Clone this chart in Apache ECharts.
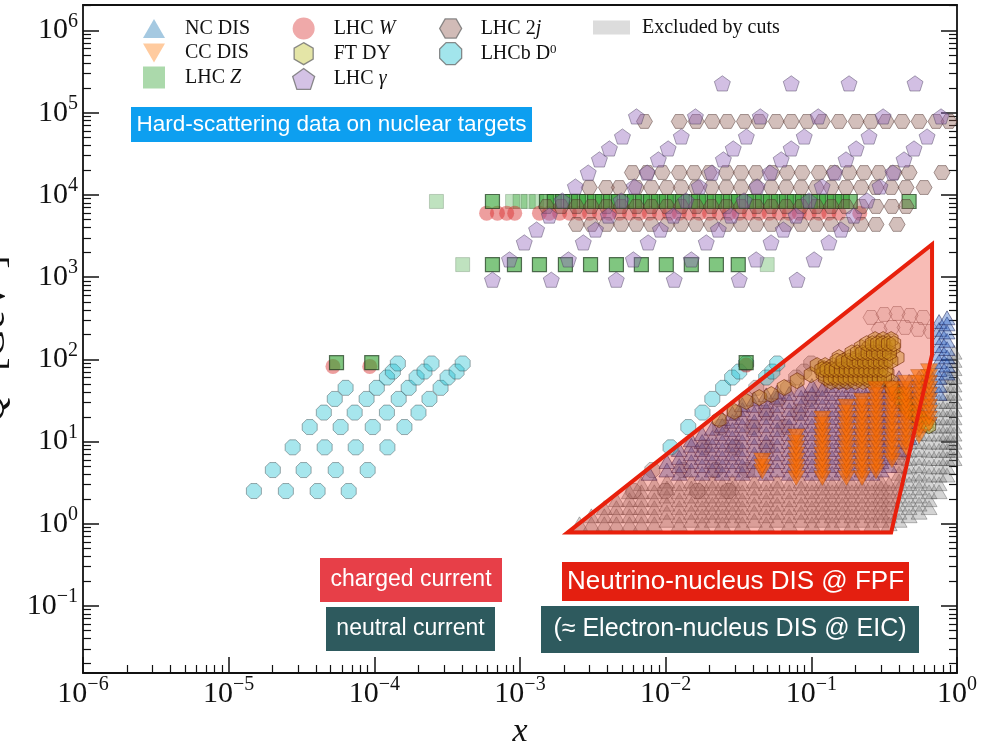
<!DOCTYPE html>
<html>
<head>
<meta charset="utf-8">
<script src="https://cdn.jsdelivr.net/npm/echarts@6.0.0/dist/echarts.min.js"></script>
<style>
  html, body { margin: 0; padding: 0; background: #ffffff; }
  #chart { width: 986px; height: 749px; }
</style>
</head>
<body>
<div id="chart"></div>
<script>
// Kinematic coverage of hard-scattering data on nuclear targets in the (x, Q^2) plane.
// Every value below is (x, Q^2 [GeV^2]).

// ---------- axis ranges and tick exponents ----------
const xLimits = [1e-6, 1];
const yLimits = [0.0153, 2.04e6];
const xDecades = [-6, -5, -4, -3, -2, -1, 0];
const yDecades = [-1, 0, 1, 2, 3, 4, 5, 6];

// ---------- NC DIS: x bins and the Q^2 points of each bin ----------
const ncDisX = [0.0077, 0.0102, 0.0124, 0.0150, 0.0178, 0.0209, 0.0245, 0.0287, 0.0336, 0.0406,
                0.0490, 0.0583, 0.0705, 0.0851, 0.101, 0.119, 0.139, 0.163, 0.190, 0.223,
                0.261, 0.301, 0.342, 0.400, 0.469, 0.549, 0.643, 0.753, 0.854];
const ncDisQ2 = [
  [4.1],
  [4.5, 5.7],
  [4.1, 5.1, 6.4, 8.0],
  [4.5, 5.7, 7.1, 9.0, 10.5],
  [4.1, 5.1, 6.4, 8.0, 10, 12.5],
  [4.5, 5.7, 7.1, 9.0, 11.2, 14.5],
  [4.1, 5.1, 6.4, 8.0, 10, 12.5, 15.7, 19],
  [4.5, 5.7, 7.1, 9.0, 11.2, 14, 17.6, 22],
  [4.1, 5.1, 6.4, 8.0, 10, 12.5, 15.7, 19.6, 24.5, 28],
  [4.5, 5.7, 7.1, 9.0, 11.2, 14, 17.6, 22, 27.5, 33],
  [4.1, 5.1, 6.4, 8.0, 10, 12.5, 15.7, 19.6, 24.5, 30.7, 37],
  [4.5, 5.7, 7.1, 9.0, 11.2, 14, 17.6, 22, 27.5, 34.5, 40],
  [4.1, 5.1, 6.4, 8.0, 10, 12.5, 15.7, 19.6, 24.5, 30.7, 38.4],
  [4.5, 5.7, 7.1, 9.0, 11.2, 14, 17.6, 22, 27.5, 34.5, 43],
  [4.1, 5.1, 6.4, 8.0, 10, 12.5, 15.7, 19.6, 24.5, 30.7, 38.4, 48],
  [4.5, 5.7, 7.1, 9.0, 11.2, 14, 17.6, 22, 27.5, 34.5, 43],
  [4.1, 5.1, 6.4, 8.0, 10, 12.5, 15.7, 19.6, 24.5, 30.7, 38.4, 48],
  [4.5, 5.7, 7.1, 9.0, 11.2, 14, 17.6, 22, 27.5, 34.5, 43, 54],
  [4.1, 5.1, 6.4, 8.0, 10, 12.5, 15.7, 19.6, 24.5, 30.7, 38.4, 48],
  [4.5, 5.7, 7.1, 9.0, 11.2, 14, 17.6, 22, 27.5, 34.5, 43],
  [4.1, 5.1, 6.4, 8.0, 10, 12.5, 15.7, 19.6, 24.5, 30.7, 38.4, 48],
  [4.5, 5.7, 7.1, 9.0, 11.2, 14, 17.6, 22, 27.5, 34.5, 43, 54],
  [5.1, 6.4, 8.0, 10, 12.5, 15.7, 19.6, 24.5, 30.7, 38.4, 48],
  [8.0, 10, 12.5, 15.7, 19.6, 24.5, 30.7, 38.4, 48, 60],
  [11.2, 14, 17.6, 22, 27.5, 34.5, 43, 54],
  [15.7, 19.6, 24.5, 30.7, 38.4, 48, 60],
  [22, 27.5, 34.5, 43, 54, 68],
  [38.4, 48, 60, 75, 94, 118, 147, 184, 231, 288],
  [68, 85, 107, 135, 170, 215, 270, 320]
];

// ---------- CC DIS (neutrino) ----------
const ccDisX = [0.046, 0.0787, 0.119, 0.174, 0.223, 0.278, 0.358, 0.447, 0.549, 0.643];
const ccDisQ2 = [
  [4.3, 5.0, 5.9],
  [3.6, 4.3, 5.0, 5.9, 7.0, 8.3, 9.8, 11.6],
  [3.6, 4.3, 5.0, 5.9, 7.0, 8.3, 9.8, 11.6, 13.7, 16.2, 19.1],
  [3.6, 4.3, 5.0, 5.9, 7.0, 8.3, 9.8, 11.6, 13.7, 16.2, 19.1, 22.6, 26.7],
  [3.6, 4.3, 5.0, 5.9, 7.0, 8.3, 9.8, 11.6, 13.7, 16.2, 19.1, 22.6, 26.7, 31.5],
  [4.3, 5.0, 5.9, 7.0, 8.3, 9.8, 11.6, 13.7, 16.2, 19.1, 22.6, 26.7, 31.5, 37.2, 44],
  [5.9, 7.0, 8.3, 9.8, 11.6, 13.7, 16.2, 19.1, 22.6, 26.7, 31.5, 37.2, 44],
  [8.3, 9.8, 11.6, 13.7, 16.2, 19.1, 22.6, 26.7, 31.5, 37.2, 44, 52],
  [11.6, 13.7, 16.2, 19.1, 22.6, 26.7, 31.5, 37.2, 44, 52, 61],
  [16.2, 19.1, 22.6, 26.7, 31.5, 37.2, 44, 52, 61, 72]
];

// ---------- DIS points removed by the Q^2 and W^2 cuts ----------
const cutDisX = [0.00256, 0.00309, 0.00379, 0.00459, 0.00564, 0.00681, 0.00836, 0.0102, 0.0124, 0.0150,
                 0.0178, 0.0209, 0.0245, 0.0287, 0.0336, 0.0406, 0.0490, 0.0583, 0.0705, 0.0851,
                 0.101, 0.119, 0.139, 0.163, 0.190, 0.223, 0.261, 0.301, 0.342, 0.400,
                 0.469, 0.549, 0.643, 0.753, 0.854, 0.954];
const cutDisQ2 = [
  [1.0],
  [1.0, 1.25],
  [1.0, 1.25, 1.57],
  [1.0, 1.25, 1.57, 1.96],
  [1.0, 1.25, 1.57, 1.96, 2.45],
  [1.0, 1.25, 1.57, 1.96, 2.45, 3.07],
  [1.0, 1.25, 1.57, 1.96, 2.45, 3.07],
  [1.1, 1.38, 1.73, 2.17, 2.72, 3.3],
  [1.0, 1.25, 1.57, 1.96, 2.45, 3.07],
  [1.1, 1.38, 1.73, 2.17, 2.72, 3.3],
  [1.0, 1.25, 1.57, 1.96, 2.45, 3.07],
  [1.1, 1.38, 1.73, 2.17, 2.72, 3.3],
  [1.0, 1.25, 1.57, 1.96, 2.45, 3.07],
  [1.1, 1.38, 1.73, 2.17, 2.72, 3.3],
  [1.0, 1.25, 1.57, 1.96, 2.45, 3.07],
  [1.1, 1.38, 1.73, 2.17, 2.72, 3.3],
  [1.0, 1.25, 1.57, 1.96, 2.45, 3.07],
  [1.1, 1.38, 1.73, 2.17, 2.72, 3.3],
  [1.0, 1.25, 1.57, 1.96, 2.45, 3.07],
  [1.1, 1.38, 1.73, 2.17, 2.72, 3.3],
  [1.0, 1.25, 1.57, 1.96, 2.45, 3.07],
  [1.1, 1.38, 1.73, 2.17, 2.72, 3.3],
  [1.0, 1.25, 1.57, 1.96, 2.45, 3.07],
  [1.1, 1.38, 1.73, 2.17, 2.72, 3.3],
  [1.0, 1.25, 1.57, 1.96, 2.45, 3.07],
  [1.1, 1.38, 1.73, 2.17, 2.72, 3.3],
  [1.0, 1.25, 1.57, 1.96, 2.45, 3.07],
  [1.1, 1.38, 1.73, 2.17, 2.72, 3.3],
  [1.0, 1.25, 1.57, 1.96, 2.45, 3.07],
  [1.1, 1.38, 1.73, 2.17, 2.72, 3.3, 4.1, 5.1, 6.4, 7.4],
  [1.25, 1.57, 1.96, 2.45, 3.07, 3.9, 4.9, 6.2, 7.8, 9.8],
  [1.38, 1.73, 2.17, 2.72, 3.3, 4.1, 5.1, 6.4, 8.0, 10, 12.5],
  [1.57, 1.96, 2.45, 3.07, 3.9, 4.9, 6.2, 7.8, 9.8, 12.3, 15.4, 19.4],
  [2.45, 3.07, 3.9, 4.9, 6.2, 7.8, 9.8, 12.3, 15.4, 19.4, 24.4, 30.7],
  [3.9, 4.9, 6.2, 7.8, 9.8, 12.3, 15.4, 19.4, 24.4, 30.7, 38.6, 48.6, 61],
  [6.2, 7.8, 9.8, 12.3, 15.4, 19.4, 24.4, 30.7, 38.6, 48.6, 61, 77, 97, 122]
];

// ---------- fixed-target Drell-Yan ----------
const ftDy = [
  [0.0233, 18.5], [0.0296, 23.2], [0.0357, 30.7], [0.0439, 34.3], [0.0531, 37.3], [0.0651, 45.4],
  [0.0799, 55], [0.0997, 65], [0.1225, 77],
  [0.1096, 84], [0.1244, 84], [0.141, 84], [0.160, 84], [0.182, 84], [0.206, 84], [0.234, 84], [0.265, 84], [0.301, 84],
  [0.1205, 67], [0.1368, 67], [0.155, 67], [0.176, 67], [0.200, 67], [0.227, 67], [0.257, 67], [0.292, 67], [0.331, 67],
  [0.1368, 53.7], [0.155, 53.7], [0.176, 53.7], [0.200, 53.7], [0.227, 53.7], [0.257, 53.7], [0.292, 53.7], [0.353, 53.7],
  [0.155, 105], [0.182, 105], [0.206, 105], [0.234, 105], [0.265, 105], [0.301, 105], [0.342, 105], [0.388, 105],
  [0.220, 139], [0.249, 139], [0.283, 139], [0.321, 139], [0.364, 139],
  [0.274, 174], [0.311, 174], [0.353, 174],
  [0.125, 60], [0.135, 60], [0.146, 60], [0.158, 60], [0.171, 60], [0.185, 60], [0.200, 60], [0.216, 60],
  [0.233, 60], [0.252, 60], [0.272, 60], [0.294, 60], [0.318, 60],
  [0.118, 75], [0.128, 75], [0.138, 75], [0.149, 75], [0.161, 75], [0.174, 75], [0.188, 75], [0.203, 75],
  [0.219, 75], [0.237, 75], [0.256, 75], [0.277, 75], [0.300, 75], [0.325, 75],
  [0.150, 95], [0.165, 95], [0.180, 95], [0.196, 95], [0.213, 95], [0.232, 95], [0.252, 95], [0.274, 95],
  [0.298, 95], [0.324, 95], [0.352, 95],
  [0.190, 120], [0.207, 120], [0.225, 120], [0.245, 120], [0.267, 120], [0.290, 120], [0.316, 120], [0.344, 120],
  [0.240, 155], [0.262, 155], [0.285, 155], [0.310, 155], [0.338, 155], [0.368, 155],
  [0.360, 45], [0.382, 40.5], [0.400, 36], [0.433, 37.3], [0.413, 32.4], [0.420, 30], [0.447, 26.7],
  [0.460, 25], [0.507, 28.2], [0.491, 22.5], [0.520, 21], [0.549, 19.6], [0.580, 18], [0.613, 16.5], [0.640, 15.5]
];

// ---------- LHCb D0 in pPb / Pbp ----------
const lhcbD0 = [
  [1.49e-5, 2.5], [2.01e-5, 4.5], [2.75e-5, 8.5], [3.6e-5, 15], [4.5e-5, 22.5], [5.35e-5, 33], [6.35e-5, 45],
  [2.47e-5, 2.5], [3.27e-5, 4.5], [4.56e-5, 8.5], [5.87e-5, 15], [7.33e-5, 22.5], [8.85e-5, 33], [1.04e-4, 45], [1.22e-4, 60], [1.34e-4, 71], [1.45e-4, 89],
  [4.08e-5, 2.5], [5.43e-5, 4.5], [7.45e-5, 8.5], [9.75e-5, 15], [1.22e-4, 22.5], [1.47e-4, 33], [1.72e-4, 45], [1.95e-4, 60], [2.21e-4, 71], [2.47e-4, 89],
  [6.67e-5, 2.5], [9.0e-5, 4.5], [1.23e-4, 8.5], [1.61e-4, 15], [2.01e-4, 22.5], [2.39e-4, 33], [2.85e-4, 45], [3.18e-4, 60], [3.67e-4, 71], [4.04e-4, 89],
  [0.0108, 8.5], [0.0143, 15], [0.0179, 22.5], [0.0209, 33], [0.0248, 45], [0.0286, 60], [0.032, 71], [0.0357, 89],
  [0.049, 60], [0.054, 71], [0.0583, 89]
];
const lhcbD0Cut = [
  [0.0060, 2.5], [0.0081, 4.5],
  [0.00995, 2.5], [0.0132, 4.5], [0.0184, 8.5], [0.0237, 15], [0.0296, 22.5], [0.0357, 33], [0.0419, 45],
  [0.0165, 2.5], [0.0219, 4.5], [0.0301, 8.5], [0.0393, 15], [0.049, 22.5], [0.0593, 33], [0.0693, 45], [0.0787, 60], [0.0893, 71], [0.0998, 89],
  [0.0269, 2.5], [0.0363, 4.5], [0.0498, 8.5], [0.0652, 15], [0.0813, 22.5], [0.0966, 33], [0.115, 45], [0.1285, 60], [0.148, 71], [0.163, 89]
];

// ---------- LHC W ----------
const lhcWX = [5.9e-4, 7.0e-4, 8.1e-4, 9.2e-4, 1.36e-3, 1.59e-3, 1.87e-3, 2.19e-3, 2.56e-3, 3.0e-3,
               3.51e-3, 4.11e-3, 4.81e-3, 5.64e-3, 6.6e-3, 7.73e-3, 9.05e-3, 0.0106, 0.0124, 0.0145,
               0.017, 0.020, 0.0233, 0.0273, 0.032, 0.0375, 0.0439, 0.0514, 0.0602, 0.0705,
               0.0826, 0.0967, 0.113, 0.132, 0.155, 0.215];
const lhcWQ2 = 6000;
const lhcWLowMass = [[5.2e-5, 82], [9.3e-5, 82], [0.0357, 85]];

// ---------- LHC Z (Q^2 = M_Z^2) and low-mass Drell-Yan ----------
const lhcZPeakX = [6.47e-4, 1.52e-3, 1.72e-3, 1.96e-3, 2.22e-3, 2.52e-3, 2.86e-3, 3.25e-3, 3.68e-3, 4.18e-3,
                   4.74e-3, 5.38e-3, 6.10e-3, 6.93e-3, 7.86e-3, 8.92e-3, 0.0101, 0.0115, 0.0130, 0.0148,
                   0.0168, 0.0190, 0.0216, 0.0245, 0.0278, 0.0316, 0.0358, 0.0406, 0.0461, 0.0523,
                   0.0594, 0.0674, 0.0764, 0.0867, 0.0984, 0.112, 0.127, 0.144, 0.163, 0.185, 0.469];
const lhcZPeakQ2 = 8315;
const lhcZLowX = [6.47e-4, 9.16e-4, 1.36e-3, 2.05e-3, 3.05e-3, 4.59e-3, 6.81e-3, 0.0101, 0.0150, 0.0223, 0.0315];
const lhcZLowQ2 = 1420;
const lhcZLowMass = [[5.5e-5, 91], [9.6e-5, 91], [0.0357, 91]];
const lhcZCut = [[2.67e-4, 8315], [8.89e-4, 8315], [1.0e-3, 8315], [1.14e-3, 8315], [1.30e-3, 8315],
                 [4.04e-4, 1420], [0.0498, 1420]];

// ---------- LHC dijets: one x list per Q^2 bin ----------
const dijetQ2 = [78200, 18700, 12300, 7230, 4370];
const dijetX = [
  [7.15e-3, 0.0124, 0.0162, 0.0209, 0.0265, 0.0347, 0.0439, 0.0574, 0.0728, 0.0935,
   0.119, 0.155, 0.203, 0.257, 0.326, 0.42, 0.549, 0.718, 0.882],
  [5.91e-3, 7.48e-3, 9.48e-3, 0.0124, 0.0157, 0.0199, 0.0261, 0.033, 0.0419, 0.0538,
   0.0682, 0.0865, 0.113, 0.143, 0.182, 0.230, 0.292, 0.370, 0.469, 0.789],
  [2.99e-3, 3.92e-3, 4.81e-3, 6.29e-3, 7.98e-3, 0.0102, 0.0128, 0.0162, 0.0206, 0.0261,
   0.033, 0.0419, 0.0531, 0.0672, 0.0851, 0.108, 0.137, 0.173, 0.22, 0.278, 0.353, 0.447, 0.594],
  [1.52e-3, 1.92e-3, 2.44e-3, 3.09e-3, 3.92e-3, 4.96e-3, 6.29e-3, 7.98e-3, 0.0102, 0.0128,
   0.0162, 0.0206, 0.0261, 0.033, 0.0419, 0.0531, 0.0672, 0.0851, 0.108, 0.137, 0.173, 0.22, 0.278, 0.358, 0.447],
  [2.44e-3, 3.09e-3, 3.92e-3, 4.96e-3, 6.29e-3, 7.98e-3, 0.0102, 0.0128, 0.0162, 0.0206,
   0.0261, 0.033, 0.0419, 0.0531, 0.0672, 0.0851, 0.108, 0.137, 0.173, 0.22, 0.278, 0.388]
];
const dijetCut = [[0.257, 323], [0.316, 351], [0.388, 361], [0.476, 342], [0.585, 323],
                  [0.292, 231], [0.358, 244], [0.44, 244], [0.54, 231], [0.663, 219]];

// ---------- LHC isolated photons ----------
const lhcGamma = [
  [6.47e-4, 930], [8.47e-4, 1640], [1.07e-3, 2640], [1.30e-3, 3790], [1.59e-3, 5610], [1.95e-3, 8550],
  [2.40e-3, 12650], [2.94e-3, 18700], [3.51e-3, 27000], [4.11e-3, 36700], [5.05e-3, 51300], [6.30e-3, 90000],
  [1.64e-3, 930], [2.15e-3, 1640], [2.72e-3, 2640], [3.30e-3, 3790], [4.04e-3, 5610], [4.95e-3, 8550],
  [6.09e-3, 12650], [7.46e-3, 18700], [8.91e-3, 27000], [0.0104, 36700], [0.0128, 51300], [0.0160, 90000], [0.0245, 227000],
  [4.58e-3, 930], [6.0e-3, 1640], [7.58e-3, 2640], [9.2e-3, 3790], [0.0113, 5610], [0.0138, 8550],
  [0.0170, 12650], [0.0208, 18700], [0.0249, 27000], [0.0291, 36700], [0.0358, 51300], [0.0446, 90000], [0.0728, 227000],
  [0.01145, 930], [0.0150, 1640], [0.0190, 2640], [0.0230, 3790], [0.0281, 5610], [0.0345, 8550],
  [0.0425, 12650], [0.0520, 18700], [0.0621, 27000], [0.0727, 36700], [0.0894, 51300], [0.1115, 90000], [0.1815, 227000],
  [0.0320, 930], [0.0418, 1640], [0.0529, 2640], [0.0642, 3790], [0.0785, 5610], [0.0963, 8550],
  [0.1186, 12650], [0.145, 18700], [0.173, 27000], [0.203, 36700], [0.249, 51300], [0.311, 90000], [0.515, 227000],
  [0.0798, 930], [0.1045, 1640], [0.132, 2640], [0.160, 3790], [0.196, 5610], [0.241, 8550],
  [0.296, 12650], [0.363, 18700], [0.433, 27000], [0.507, 36700], [0.623, 51300], [0.777, 90000]
];

// ---------- FPF neutrino DIS coverage (polygon vertices) ----------
const fpfX = [0.00212, 0.674, 0.674, 0.353];
const fpfQ2 = [0.78, 2494, 114, 0.78];

// ---------- helpers ----------
const lg = Math.log10;
const pt = (x, q) => [lg(x), lg(q)];
const fromColumns = (xs, qs) => xs.flatMap((x, i) => qs[i].map(q => pt(x, q)));
const fromRow = (xs, q) => xs.map(x => pt(x, q));
const fromPairs = ps => ps.map(p => pt(p[0], p[1]));

const SERIF = '"Liberation Serif", "DejaVu Serif", serif';
const SANS = '"Liberation Sans", Arial, sans-serif';
const INK = '#111111';

const TRI_UP = 'path://M0,-10L8.66,5L-8.66,5Z';
const TRI_DOWN = 'path://M0,10L8.66,-5L-8.66,-5Z';
const SQUARE = 'path://M-5,-5L5,-5L5,5L-5,5Z';
const PENTAGON = 'path://M0,-10L9.51,-3.09L5.88,8.09L-5.88,8.09L-9.51,-3.09Z';
const HEX_FLAT = 'path://M10,0L5,8.66L-5,8.66L-10,0L-5,-8.66L5,-8.66Z';
const HEX_POINT = 'path://M0,-10L8.66,-5L8.66,5L0,10L-8.66,5L-8.66,-5Z';
const OCTAGON = 'path://M9.24,3.83L3.83,9.24L-3.83,9.24L-9.24,3.83L-9.24,-3.83L-3.83,-9.24L3.83,-9.24L9.24,-3.83Z';
const BAR = 'path://M0,0L37,0L37,14L0,14Z';

function scatter(name, symbol, size, data, fill, stroke, strokeWidth, z) {
  return {
    type: 'scatter', name, symbol, symbolSize: size, symbolKeepAspect: true, z,
    data, silent: true, animation: false, progressive: 0, large: false,
    itemStyle: { color: fill, borderColor: stroke, borderWidth: strokeWidth, opacity: 1 },
    emphasis: { disabled: true }
  };
}

function fpfShape(style, z) {
  return {
    type: 'custom', name: 'FPF', silent: true, animation: false, clip: false, z,
    data: fpfX.map((x, i) => pt(x, fpfQ2[i])),
    renderItem: (params, api) => {
      if (params.dataIndex !== 0) return null;
      const pts = fpfX.map((x, i) => api.coord(pt(x, fpfQ2[i])));
      return { type: 'polygon', shape: { points: pts }, style: style };
    }
  };
}

function powerLabel(v) {
  const n = Math.round(v);
  return '{b|10}{s|' + (n < 0 ? '\u2212' + (-n) : String(n)) + '}';
}
const tickRich = {
  b: { fontFamily: SERIF, fontSize: 30, lineHeight: 38, color: INK },
  s: { fontFamily: SERIF, fontSize: 20, lineHeight: 20, verticalAlign: 'top', color: INK }
};

function minorTicks(lo, hi, min, max) {
  const t = [];
  for (let n = lo; n <= hi; n++) {
    for (let k = 2; k <= 9; k++) {
      const v = n + lg(k);
      if (v >= min && v <= max) t.push(v);
    }
  }
  return t;
}

const X_MIN = lg(xLimits[0]), X_MAX = lg(xLimits[1]);
const Y_MIN = lg(yLimits[0]), Y_MAX = lg(yLimits[1]);
const xMinor = minorTicks(-6, -1, X_MIN, X_MAX);
const yMinor = minorTicks(-2, 6, Y_MIN, Y_MAX);

const lineOn = { show: true, onZero: false, lineStyle: { color: INK, width: 1.8 } };
const lineOff = { show: false, onZero: false };
const off = { show: false };
const majorTick = vals => ({ show: true, inside: true, length: 16, customValues: vals, lineStyle: { color: INK, width: 1.5 } });
const minorTick = vals => ({ show: true, inside: true, length: 8, customValues: vals, lineStyle: { color: INK, width: 1.2 } });

function xAxis(extra) {
  return Object.assign({ type: 'value', min: X_MIN, max: X_MAX, splitLine: off, axisLine: lineOff, axisTick: off, axisLabel: off }, extra);
}
function yAxis(extra) {
  return Object.assign({ type: 'value', min: Y_MIN, max: Y_MAX, splitLine: off, axisLine: lineOff, axisTick: off, axisLabel: off }, extra);
}

// ---------- legend ----------
const legendLabels = {
  'LHC Z': 'LHC {i|Z}', 'LHC W': 'LHC {i|W}', 'LHC \u03b3': 'LHC {i|\u03b3}',
  'LHC 2j': 'LHC 2{i|j}', 'LHCb D0': 'LHCb D{u|0}'
};
function legendBlock(left, top, spacer, items, extra) {
  return Object.assign({
    show: true, left, top, orient: 'vertical', padding: 0,
    itemWidth: 22, itemHeight: 22, itemGap: 2.5, selectedMode: false,
    data: items,
    formatter: n => '{sp|\u00a0}' + (legendLabels[n] || n),
    textStyle: {
      fontFamily: SERIF, fontSize: 20, color: INK, lineHeight: 22,
      rich: {
        sp: { width: spacer, fontSize: 20 },
        i: { fontFamily: SERIF, fontSize: 20, fontStyle: 'italic', color: INK },
        u: { fontFamily: SERIF, fontSize: 13, lineHeight: 14, verticalAlign: 'top', color: INK }
      }
    }
  }, extra || {});
}
const plainIcon = c => ({ color: c, borderWidth: 0 });
const edgedIcon = c => ({ color: c, borderColor: 'rgba(110,110,110,0.8)', borderWidth: 1.3 });

// ---------- colours ----------
const COL = {
  nc: 'rgba(40,95,195,0.38)', ncEdge: 'rgba(30,30,80,0.5)',
  cc: 'rgba(255,110,0,0.62)', ccEdge: 'rgba(150,60,0,0.3)',
  z: 'rgba(44,160,44,0.6)', zEdge: 'rgba(25,55,25,0.7)',
  zCut: 'rgba(44,160,44,0.3)', zCutEdge: 'rgba(60,90,60,0.25)',
  w: 'rgba(214,39,40,0.45)',
  dy: 'rgba(188,180,30,0.42)', dyEdge: 'rgba(60,40,0,0.6)',
  gam: 'rgba(148,103,189,0.42)', gamEdge: 'rgba(70,60,90,0.45)',
  jj: 'rgba(140,86,75,0.38)', jjEdge: 'rgba(70,45,40,0.45)',
  d0: 'rgba(23,190,207,0.38)', d0Edge: 'rgba(60,70,75,0.45)',
  cut: 'rgba(120,120,120,0.32)', cutEdge: 'rgba(60,60,60,0.35)'
};
const CUT = 'Excluded by cuts';

const dijetPoints = dijetX.flatMap((xs, i) => fromRow(xs, dijetQ2[i]));

const series = [
  scatter(CUT, TRI_UP, 16, fromColumns(cutDisX, cutDisQ2), COL.cut, COL.cutEdge, 1, 2),
  scatter(CUT, OCTAGON, 15, fromPairs(lhcbD0Cut), COL.cut, COL.cutEdge, 1, 2),
  scatter(CUT, HEX_FLAT, 16, fromPairs(dijetCut), 'rgba(140,110,110,0.12)', 'rgba(90,60,60,0.35)', 1, 2),
  scatter('NC DIS', TRI_UP, 16, fromColumns(ncDisX, ncDisQ2), COL.nc, COL.ncEdge, 1, 2),
  scatter('FT DY', HEX_POINT, 16, fromPairs(ftDy), COL.dy, COL.dyEdge, 1, 2),
  fpfShape({ fill: 'rgba(232,32,12,0.3)' }, 3),
  scatter('CC DIS', TRI_DOWN, 17, fromColumns(ccDisX, ccDisQ2), COL.cc, COL.ccEdge, 1, 4),
  scatter('LHCb D0', OCTAGON, 15, fromPairs(lhcbD0), COL.d0, COL.d0Edge, 1, 5),
  scatter(CUT, 'rect', 14, fromPairs(lhcZCut), COL.zCut, COL.zCutEdge, 1, 5),
  scatter('LHC W', 'circle', 15, fromRow(lhcWX, lhcWQ2).concat(fromPairs(lhcWLowMass)), COL.w, 'rgba(0,0,0,0)', 0, 5),
  scatter('LHC Z', 'rect', 14, fromRow(lhcZPeakX, lhcZPeakQ2).concat(fromRow(lhcZLowX, lhcZLowQ2), fromPairs(lhcZLowMass)), COL.z, COL.zEdge, 1.2, 6),
  scatter('LHC 2j', HEX_FLAT, 16, dijetPoints, COL.jj, COL.jjEdge, 1, 7),
  scatter('LHC \u03b3', PENTAGON, 16, fromPairs(lhcGamma), COL.gam, COL.gamEdge, 1, 8),
  fpfShape({ fill: 'none', stroke: '#e8200c', lineWidth: 4, lineJoin: 'miter' }, 9)
];

// ---------- annotation boxes ----------
function labelBox(x, y, w, h, bg, text, size) {
  return [
    { type: 'rect', z: 100, silent: true, shape: { x, y, width: w, height: h }, style: { fill: bg } },
    { type: 'text', z: 101, silent: true, x: x + w / 2, y: y + h / 2,
      style: { text, fill: '#ffffff', font: size + 'px ' + SANS,
               textAlign: 'center', align: 'center', textVerticalAlign: 'middle', verticalAlign: 'middle' } }
  ];
}

const option = {
  animation: false,
  backgroundColor: '#ffffff',
  grid: { left: 83, right: 29, top: 5, bottom: 76, containLabel: false, outerBoundsMode: 'none' },
  xAxis: [
    xAxis({ position: 'bottom', axisLine: lineOn, axisTick: majorTick(xDecades),
            axisLabel: { show: true, customValues: xDecades, formatter: powerLabel, margin: 2, rich: tickRich },
            name: 'x', nameLocation: 'middle', nameGap: 42,
            nameTextStyle: { fontFamily: SERIF, fontStyle: 'italic', fontSize: 34, color: INK } }),
    xAxis({ position: 'bottom', axisTick: minorTick(xMinor) }),
    xAxis({ position: 'top', axisLine: lineOn })
  ],
  yAxis: [
    yAxis({ position: 'left', axisLine: lineOn, axisTick: majorTick(yDecades),
            axisLabel: { show: true, customValues: yDecades, formatter: powerLabel, margin: 5, rich: tickRich },
            name: '{q|Q}{s|2} [GeV{s|2}]', nameLocation: 'middle', nameRotate: 90, nameGap: 70,
            nameTextStyle: { fontFamily: SERIF, fontSize: 40, color: INK,
              rich: { q: { fontFamily: SERIF, fontStyle: 'italic', fontSize: 40, color: INK },
                      s: { fontFamily: SERIF, fontSize: 26, verticalAlign: 'top', color: INK } } } }),
    yAxis({ position: 'left', axisTick: minorTick(yMinor) }),
    yAxis({ position: 'right', axisLine: lineOn, axisTick: majorTick(yDecades) }),
    yAxis({ position: 'right', axisTick: minorTick(yMinor) })
  ],
  legend: [
    legendBlock(143, 17.5, 15, [
      { name: 'NC DIS', icon: TRI_UP, itemStyle: plainIcon('#a5c9e1') },
      { name: 'CC DIS', icon: TRI_DOWN, itemStyle: plainIcon('#ffcb9f') },
      { name: 'LHC Z', icon: SQUARE, itemStyle: plainIcon('#abd9ab') }
    ]),
    legendBlock(292, 17.5, 14, [
      { name: 'LHC W', icon: 'circle', itemStyle: plainIcon('#efa9a9') },
      { name: 'FT DY', icon: HEX_POINT, itemStyle: edgedIcon('#e4e5a7') },
      { name: 'LHC \u03b3', icon: PENTAGON, itemStyle: edgedIcon('#d4c2e5') }
    ]),
    legendBlock(439, 17.5, 14, [
      { name: 'LHC 2j', icon: HEX_FLAT, itemStyle: edgedIcon('#d1bbb7') },
      { name: 'LHCb D0', icon: OCTAGON, itemStyle: edgedIcon('#a2e5ec') }
    ]),
    legendBlock(593, 16.5, 7, [
      { name: CUT, icon: BAR, itemStyle: plainIcon('#dcdcdc') }
    ], { itemWidth: 37, itemHeight: 14 })
  ],
  graphic: [].concat(
    labelBox(131, 107, 401, 35, '#0d9ff0', 'Hard-scattering data on nuclear targets', 22.5),
    labelBox(320, 558, 182, 44, '#e73f48', 'charged current', 23),
    labelBox(326, 607, 169, 44, '#2e5a5e', 'neutral current', 23),
    labelBox(562, 562, 347, 39, '#e41f10', 'Neutrino-nucleus DIS @ FPF', 26),
    labelBox(541, 606, 378, 47, '#2e5a5e', '(\u2248 Electron-nucleus DIS @ EIC)', 25)
  ),
  series
};

const chart = echarts.init(document.getElementById('chart'), null, { renderer: 'canvas' });
chart.setOption(option);
</script>
</body>
</html>
